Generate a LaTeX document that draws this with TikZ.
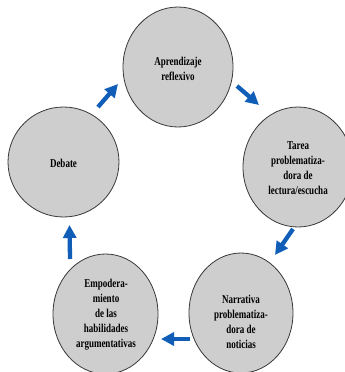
\documentclass[tikz,border=0pt]{standalone}
\usepackage{fontspec}
\setmainfont{Liberation Serif}[FakeStretch=0.75]
\usetikzlibrary{arrows.meta,shapes.geometric}
\definecolor{cfill}{RGB}{206,206,206}
\definecolor{cline}{RGB}{55,55,55}
\definecolor{cblue}{RGB}{16,94,184}
\begin{document}
\begin{tikzpicture}[x=1pt,y=-1pt,
  stage/.style={ellipse,draw=cline,line width=0.8pt,fill=cfill,inner sep=0pt,
    align=center,font=\fontsize{12}{15}\selectfont\bfseries},
  flow/.style={draw=cblue,line width=4.3pt,-{Triangle[length=13pt,width=13pt]}}]
\useasboundingbox (0,0) rectangle (345,372);
\node[stage,minimum width=110pt,minimum height=120pt] (apr) at (178,67) {};
\node[stage,minimum width=111pt,minimum height=110pt] (deb) at (63.5,162) {};
\node[stage,minimum width=110pt,minimum height=120pt] (tar) at (298,167) {};
\node[stage,minimum width=105pt,minimum height=120pt] (emp) at (105.5,314) {};
\node[stage,minimum width=104pt,minimum height=120pt] (nar) at (241,313) {};
\node[font=\fontsize{12}{15}\selectfont\bfseries,align=center] (taprt) at (178,69) {Aprendizaje\\reflexivo};
\node[font=\fontsize{12}{15}\selectfont\bfseries,align=center] (tdeb) at (63.5,163) {Debate};
\node[font=\fontsize{12}{15}\selectfont\bfseries,align=center] (ttar) at (298,168) {Tarea\\problematiza-\\dora de\\lectura/escucha};
\node[font=\fontsize{12}{15}\selectfont\bfseries,align=center] (temp) at (106,315) {Empodera-\\miento\\de las\\habilidades\\argumentativas};
\node[font=\fontsize{12}{15}\selectfont\bfseries,align=center] (tnar) at (241,322) {Narrativa\\problematiza-\\dora de\\noticias};
\coordinate (a1s) at (98,107); \coordinate (a1e) at (118,84);
\coordinate (a2s) at (237,86); \coordinate (a2e) at (259,105);
\coordinate (a3s) at (293,229); \coordinate (a3e) at (275,255);
\coordinate (a4s) at (190,339); \coordinate (a4e) at (161,339);
\coordinate (a5s) at (70,259); \coordinate (a5e) at (69.5,225);
\draw[flow] (a1s) -- (a1e);
\draw[flow] (a2s) -- (a2e);
\draw[flow] (a3s) -- (a3e);
\draw[flow] (a4s) -- (a4e);
\draw[flow] (a5s) -- (a5e);
\end{tikzpicture}
\end{document}
